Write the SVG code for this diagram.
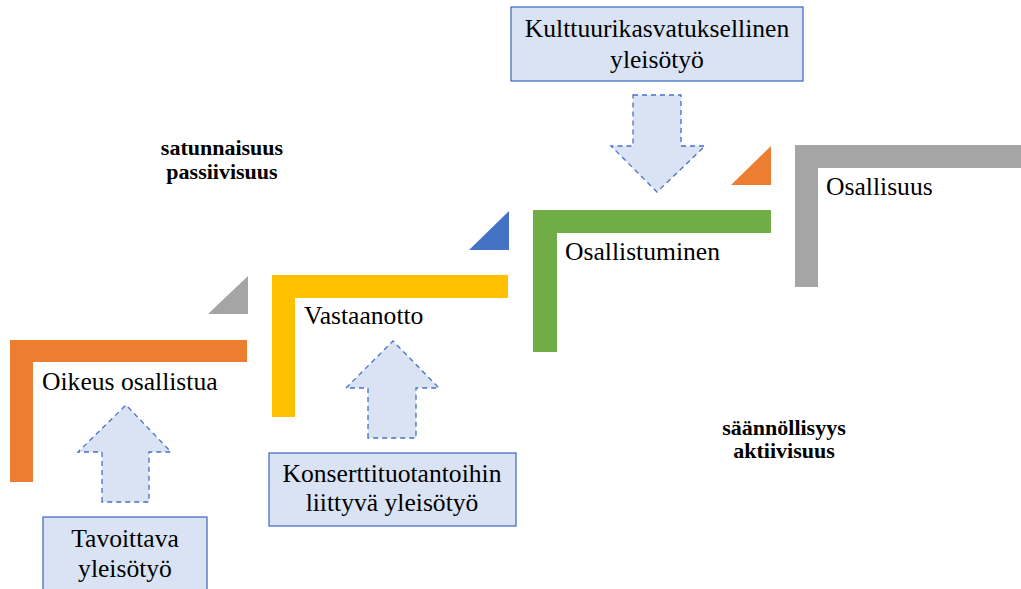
<svg xmlns="http://www.w3.org/2000/svg" width="1021" height="589" viewBox="0 0 1021 589">
<style>
text{font-family:'Liberation Serif','Times New Roman',Tinos,'DejaVu Serif',serif}
.t{font-size:25.6px;fill:#000}
.b{font-size:22px;font-weight:bold;fill:#000;text-anchor:middle}
.box{fill:#DAE3F3;stroke:#4472C4;stroke-width:1.3}
.arr{fill:#DAE3F3;stroke:#4472C4;stroke-width:1.3;stroke-dasharray:5 4}
.c{text-anchor:middle}
</style>
<rect width="1021" height="589" fill="#fff"/>
<g id="step-oikeus">
<path d="M10 340H247V362H33V482H10Z" fill="#ED7D31"/>
<text class="t" x="42" y="390">Oikeus osallistua</text>
</g>
<g id="tri-grey"><path d="M208 314L248 276V314Z" fill="#A5A5A5"/></g>
<g id="step-vastaanotto">
<path d="M272 275H508V298H295V417H272Z" fill="#FFC000"/>
<text class="t" x="304" y="324">Vastaanotto</text>
</g>
<g id="tri-blue"><path d="M469 250L509 211V250Z" fill="#4472C4"/></g>
<g id="step-osallistuminen">
<path d="M533 210H771V233H557V352H533Z" fill="#70AD47"/>
<text class="t" x="565" y="260">Osallistuminen</text>
</g>
<g id="tri-orange"><path d="M731 185L771 146V185Z" fill="#ED7D31"/></g>
<g id="step-osallisuus">
<path d="M795 145H1021V168H818V287H795Z" fill="#A5A5A5"/>
<text class="t" x="826" y="195">Osallisuus</text>
</g>
<g id="label-passive">
<text class="b" x="222" y="155">satunnaisuus</text>
<text class="b" x="222" y="179">passiivisuus</text>
</g>
<g id="label-active">
<text class="b" x="784" y="435">säännöllisyys</text>
<text class="b" x="784" y="458">aktiivisuus</text>
</g>
<g id="box-kulttuuri">
<rect class="box" x="511" y="7" width="292" height="74"/>
<text class="t c" x="657" y="37">Kulttuurikasvatuksellinen</text>
<text class="t c" x="657" y="68">yleisötyö</text>
</g>
<g id="box-konsertti">
<rect class="box" x="269" y="453" width="247" height="73"/>
<text class="t c" x="392" y="482">Konserttituotantoihin</text>
<text class="t c" x="392" y="511">liittyvä yleisötyö</text>
</g>
<g id="box-tavoittava">
<rect class="box" x="43" y="517" width="164" height="80"/>
<text class="t c" x="125" y="547">Tavoittava</text>
<text class="t c" x="125" y="577">yleisötyö</text>
</g>
<g id="connectors">
<path class="arr" d="M633 95H681V146H705L657 192L611 146H633Z"/>
<path class="arr" d="M368 438V388H346L393 341L439 388H416V438Z"/>
<path class="arr" d="M102 502V452H78L126 405L171 452H149V502Z"/>
</g>
</svg>
